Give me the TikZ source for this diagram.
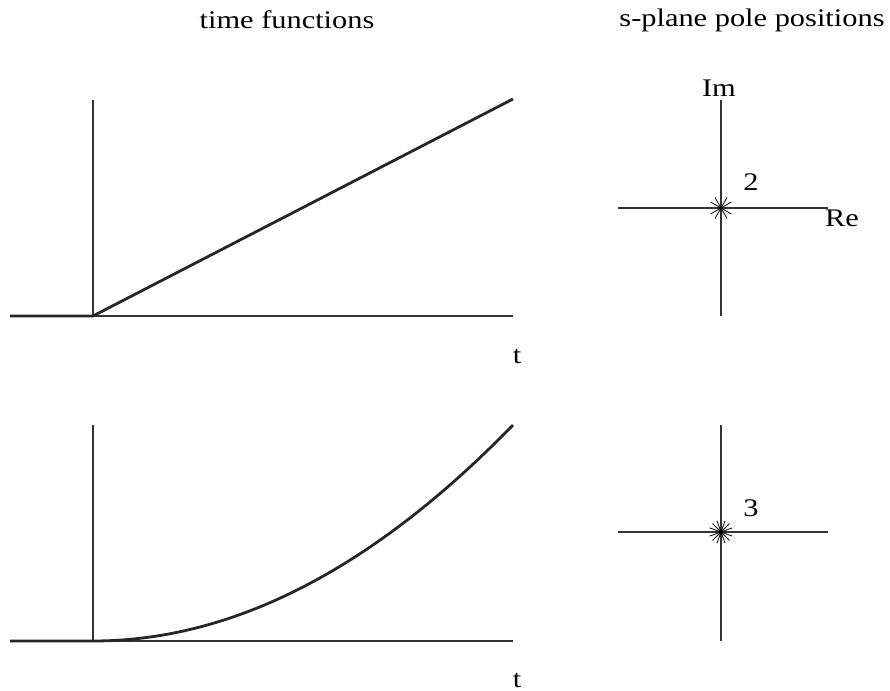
\documentclass[tikz,border=0pt]{standalone}
\usepackage{fontspec}
\setmainfont{Liberation Serif}
\begin{document}
\begin{tikzpicture}[x=0.75pt,y=-0.75pt,
  axis/.style={line width=0.8pt,black!80},
  func/.style={line width=2.1pt,black!85},
  lbl/.style={font=\fontsize{19}{22}\selectfont,inner sep=0pt},
  pole/.style={line width=0.6pt,black}]
\useasboundingbox (0,0) rectangle (890,691);
% titles
\node[lbl] (t1) at (287,20) {\scalebox{1.2}[1]{time functions}};
\node[lbl] (t2) at (752,20) {\scalebox{1.2}[1]{s-plane pole positions}};
% top time plot
\coordinate (a1) at (93,100);
\coordinate (a2) at (93,316);
\coordinate (h1) at (10,316);
\coordinate (h2) at (513,316);
\coordinate (r1) at (513,99);
\draw[axis] (a1) -- (a2);
\draw[axis] (h1) -- (h2);
\draw[func] (h1) -- (a2) -- (r1);
\node[lbl] (tt1) at (517,356) {\scalebox{1.2}[1]{t}};
% bottom time plot
\coordinate (b1) at (93,425);
\coordinate (b2) at (93,641);
\coordinate (g1) at (10,641);
\coordinate (g2) at (513,641);
\coordinate (q1) at (513,425);
\draw[axis] (b1) -- (b2);
\draw[axis] (g1) -- (g2);
\draw[func] (g1) -- (b2) .. controls (233,641) and (373,569) .. (q1);
\node[lbl] (tt2) at (517,680) {\scalebox{1.2}[1]{t}};
% top s-plane
\coordinate (v1) at (721,100);
\coordinate (v2) at (721,316);
\coordinate (w1) at (618,208);
\coordinate (w2) at (828,208);
\coordinate (p1) at (721,208);
\draw[axis] (v1) -- (v2);
\draw[axis] (w1) -- (w2);
\foreach \r in {30,60} {
  \draw[pole] (p1) ++(\r:12) -- ++(180+\r:24);
  \draw[pole] (p1) ++(-\r:12) -- ++(180-\r:24);
}
\node[lbl] (im) at (719,88) {\scalebox{1.2}[1]{Im}};
\node[lbl] (re) at (842,218) {\scalebox{1.2}[1]{Re}};
\node[lbl] (n2) at (751,182) {\scalebox{1.2}[1]{2}};
% bottom s-plane
\coordinate (u1) at (721,425);
\coordinate (u2) at (721,641);
\coordinate (s1) at (618,532);
\coordinate (s2) at (828,532);
\coordinate (p2) at (721,532);
\draw[axis] (u1) -- (u2);
\draw[axis] (s1) -- (s2);
\foreach \r in {20,45,70} {
  \draw[pole] (p2) ++(\r:12) -- ++(180+\r:24);
  \draw[pole] (p2) ++(-\r:12) -- ++(180-\r:24);
}
\node[lbl] (n3) at (751,508) {\scalebox{1.2}[1]{3}};
\end{tikzpicture}
\end{document}
